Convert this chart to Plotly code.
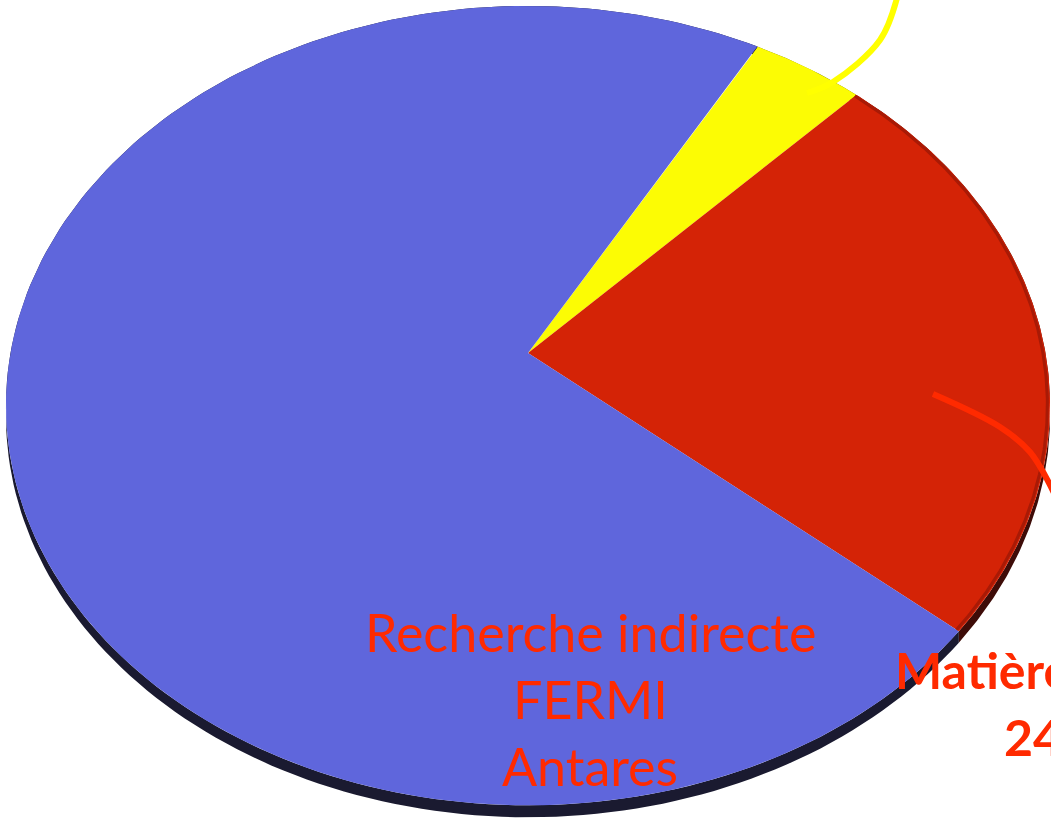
import numpy as np
import plotly.graph_objects as go

# slices, clockwise from the start angle
categories = ["Autre", "Matière noire", "Recherche indirecte"]
values = [4, 24, 72]
face_colors = ["#FCFC04", "#D42306", "#5F66DC"]
rim_colors = ["#6b6b08", "#3E0C08", "#1A1A30"]

blue_label = ["Recherche indirecte", "FERMI", "Antares"]
red_label = ["Matière noire", "24%"]

START_ANGLE = 60.4  # degrees, counter-clockwise from 3 o'clock

# perspective view of the disc (pixel space)
CX, CY = 528, 353
F, TILT_S, TILT_C = 517.5, 0.1316, 0.759
RIM = 10.4


def project(r, theta_deg, drop=0.0):
    t = np.radians(theta_deg)
    x = r * np.cos(t)
    y = -r * np.sin(t)  # toward the viewer
    d = 1 - TILT_S * y
    return CX + F * x / d, CY + (F * TILT_C * y + drop) / d


fig = go.Figure()

shares = np.array(values) / sum(values) * 360
edges = START_ANGLE - np.concatenate([[0], np.cumsum(shares)])

# side wall
for i in range(len(values)):
    th = np.linspace(edges[i], edges[i + 1], 200)
    xt, yt = project(1, th)
    xb, yb = project(1, th, RIM)
    fig.add_trace(go.Scatter(x=np.concatenate([xt, xb[::-1]]),
                             y=np.concatenate([yt, yb[::-1]]),
                             fill="toself", fillcolor=rim_colors[i],
                             line=dict(width=0), mode="lines", hoverinfo="skip"))

# top face
for i in range(len(values)):
    th = np.linspace(edges[i], edges[i + 1], 200)
    xa, ya = project(1, th)
    fig.add_trace(go.Scatter(x=np.concatenate([[CX], xa, [CX]]),
                             y=np.concatenate([[CY], ya, [CY]]),
                             fill="toself", fillcolor=face_colors[i],
                             line=dict(width=0), mode="lines", hoverinfo="skip"))

# darker edge on the red slice
th = np.linspace(edges[1], edges[2], 200)
xa, ya = project(0.995, th)
fig.add_trace(go.Scatter(x=xa, y=ya, mode="lines", line=dict(color="#A81A06", width=3),
                         hoverinfo="skip"))

# leader lines
fig.add_trace(go.Scatter(x=[807, 833, 880, 897], y=[93, 82, 40, -2], mode="lines",
                         line=dict(color="#FFFF00", width=6, shape="spline"), hoverinfo="skip"))
fig.add_trace(go.Scatter(x=[933, 1000, 1030, 1055], y=[394, 427, 452, 495], mode="lines",
                         line=dict(color="#FF2A00", width=6, shape="spline"), hoverinfo="skip"))

font_family = "Lato, Noto Sans, sans-serif"
for txt, y in zip(blue_label, [632, 699, 766]):
    fig.add_annotation(x=590, y=y, text=txt, showarrow=False, xanchor="center", yanchor="middle",
                       font=dict(family=font_family, size=52, color="#FF2A00"))
for txt, x, y in zip(red_label, [893, 1002], [670, 737]):
    fig.add_annotation(x=x, y=y, text="<b>%s</b>" % txt, showarrow=False, xanchor="left",
                       yanchor="middle", font=dict(family=font_family, size=50, color="#FF2A00"))

fig.update_xaxes(range=[0, 1051], visible=False, fixedrange=True)
fig.update_yaxes(range=[821, 0], visible=False, fixedrange=True)
fig.update_layout(width=1051, height=821, margin=dict(l=0, r=0, t=0, b=0),
                  showlegend=False, plot_bgcolor="white", paper_bgcolor="white")

fig.write_html("out.html", config={"displayModeBar": False},
               post_script="document.body.style.margin='0';document.body.style.overflow='hidden';")
